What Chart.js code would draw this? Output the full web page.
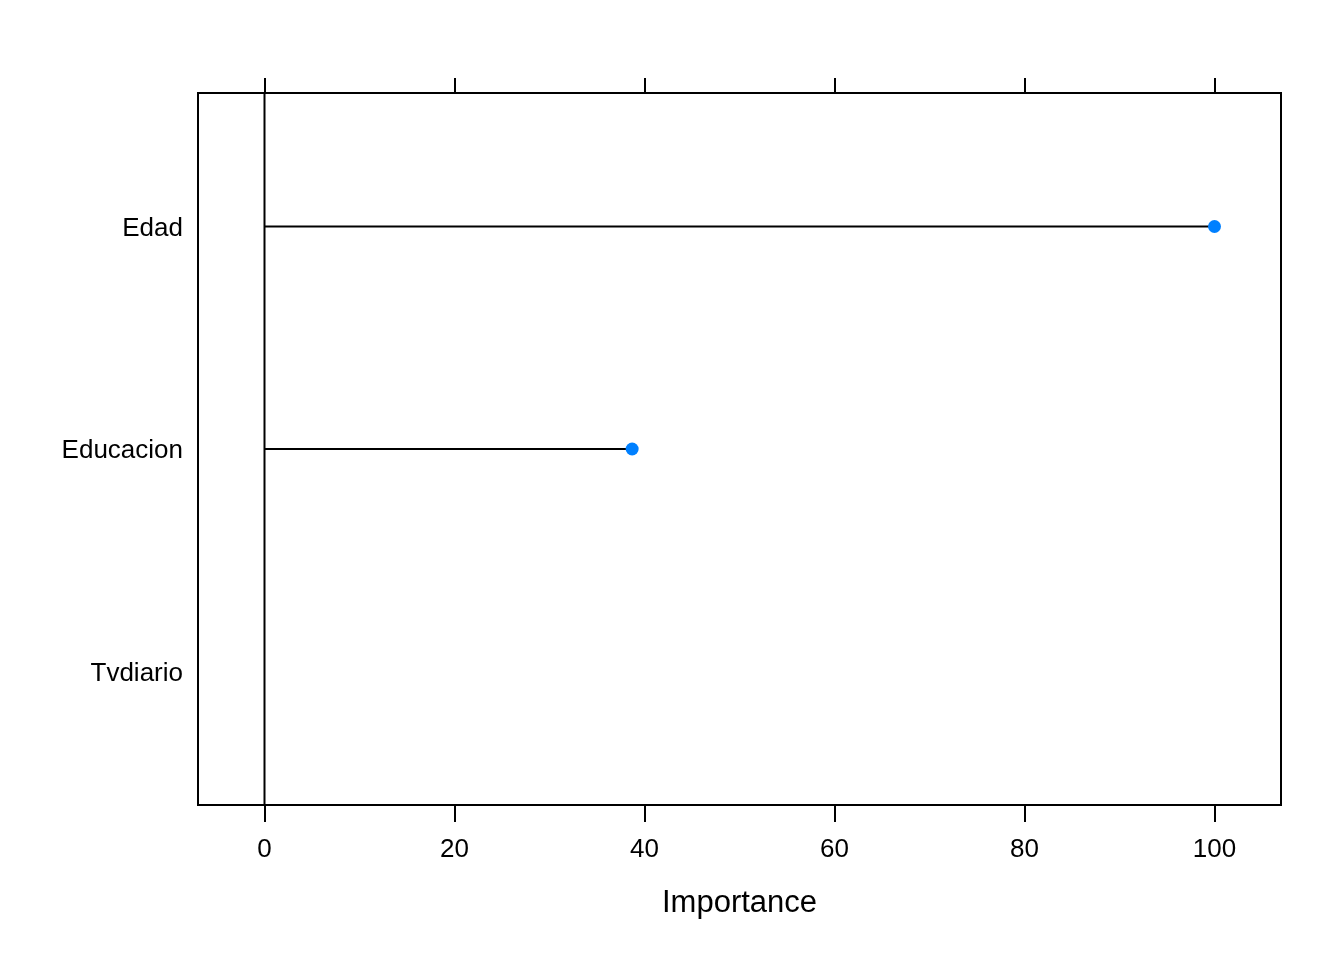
<!DOCTYPE html>
<html>
<head>
<meta charset="utf-8">
<script src="https://cdn.jsdelivr.net/npm/chart.js@4"></script>
<style>
  body { margin: 0; background: #fff; }
  canvas { display: block; }
</style>
</head>
<body>
<canvas id="impChart" width="1344" height="960"></canvas>
<script>
// variable importance values
const categories = ['Edad', 'Educacion', 'Tvdiario'];
const importance = [100, 38.7, null];   // Tvdiario has no point drawn
const xTicks = [0, 20, 40, 60, 80, 100];

const xMin = -7, xMax = 107;
const yMin = 0.4, yMax = 3.6;
const dotColor = '#0080FF';
const font = { family: 'Liberation Sans, Arial, sans-serif', size: 26 };

// one segment from 0 to the value for each category
const datasets = [];
categories.forEach((name, i) => {
    if (importance[i] === null) return;
    datasets.push({
        label: name,
        data: [{ x: 0, y: i + 1 }, { x: importance[i], y: i + 1 }],
        borderColor: '#000',
        borderWidth: 2,
        pointRadius: [0, 6.5],
        pointBackgroundColor: dotColor,
        pointBorderWidth: 0,
        pointHoverRadius: 0
    });
});

// reference line at zero
datasets.unshift({
    label: 'zero',
    data: [{ x: 0, y: yMin }, { x: 0, y: yMax }],
    borderColor: '#000',
    borderWidth: 2,
    pointRadius: 0
});

function setTicks(list) {
    return scale => { scale.ticks = list.map(v => ({ value: v })); };
}

const ctx = document.getElementById('impChart').getContext('2d');
new Chart(ctx, {
    type: 'line',
    data: { datasets: datasets },
    options: {
        responsive: false,
        animation: false,
        events: [],
        layout: { padding: 0 },
        plugins: { legend: { display: false }, tooltip: { enabled: false } },
        scales: {
            x: {
                type: 'linear', position: 'bottom', min: xMin, max: xMax,
                afterBuildTicks: setTicks(xTicks),
                afterFit: s => { s.height = 155; },
                grid: { drawOnChartArea: false, drawTicks: true, tickLength: 17, color: '#000', lineWidth: 2 },
                border: { display: true, color: '#000', width: 2 },
                ticks: { color: '#000', font: font, padding: 12, maxRotation: 0 },
                title: { display: true, text: 'Importance', color: '#000',
                         font: { family: font.family, size: 31 }, padding: { top: 12, bottom: 38 } }
            },
            x2: {
                type: 'linear', position: 'top', min: xMin, max: xMax,
                afterBuildTicks: setTicks(xTicks),
                afterFit: s => { s.height = 93; },
                grid: { drawOnChartArea: false, drawTicks: true, tickLength: 15, color: '#000', lineWidth: 2 },
                border: { display: true, color: '#000', width: 2 },
                ticks: { display: false }
            },
            y: {
                type: 'linear', position: 'left', min: yMin, max: yMax, reverse: true,
                afterBuildTicks: setTicks([1, 2, 3]),
                afterFit: s => { s.width = 198; },
                grid: { display: false, drawTicks: false },
                border: { display: true, color: '#000', width: 2 },
                ticks: { color: '#000', font: font, padding: 15, labelOffset: 2,
                         callback: v => categories[v - 1] }
            },
            y2: {
                type: 'linear', position: 'right', min: yMin, max: yMax,
                afterFit: s => { s.width = 63; },
                grid: { display: false, drawTicks: false },
                border: { display: true, color: '#000', width: 2 },
                ticks: { display: false }
            }
        }
    }
});
</script>
</body>
</html>
